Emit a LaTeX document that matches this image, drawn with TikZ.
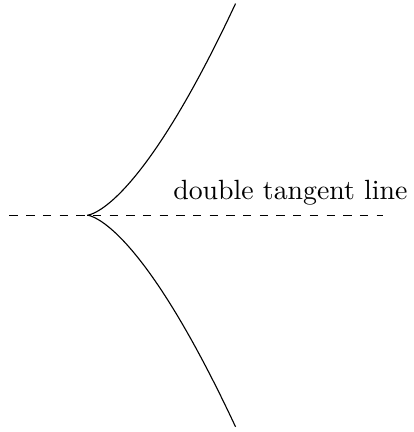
\documentclass[tikz,border=0pt]{standalone}
\usepackage{tikz}

\begin{document}
\begin{tikzpicture}[
    curve/.style={thin},
    tangent/.style={thin, dashed},
  ]
    \useasboundingbox (-1.10,-2.74) rectangle (4.12,2.72);
    % cusp and tangent line
    \coordinate (cusp)  at (0,0);
    \coordinate (left)  at (-0.98,0);
    \coordinate (right) at (3.74,0);
    \draw[tangent] (left) -- (cusp) -- (right);
    % the two branches
    \draw[curve] plot[domain=-1.37:1.37, samples=80, smooth]
      ({\x*\x}, {1.04*\x*\x*\x});
    \node[anchor=base] (lbl) at (2.57,0.2) {double tangent line};
\end{tikzpicture}
\end{document}
